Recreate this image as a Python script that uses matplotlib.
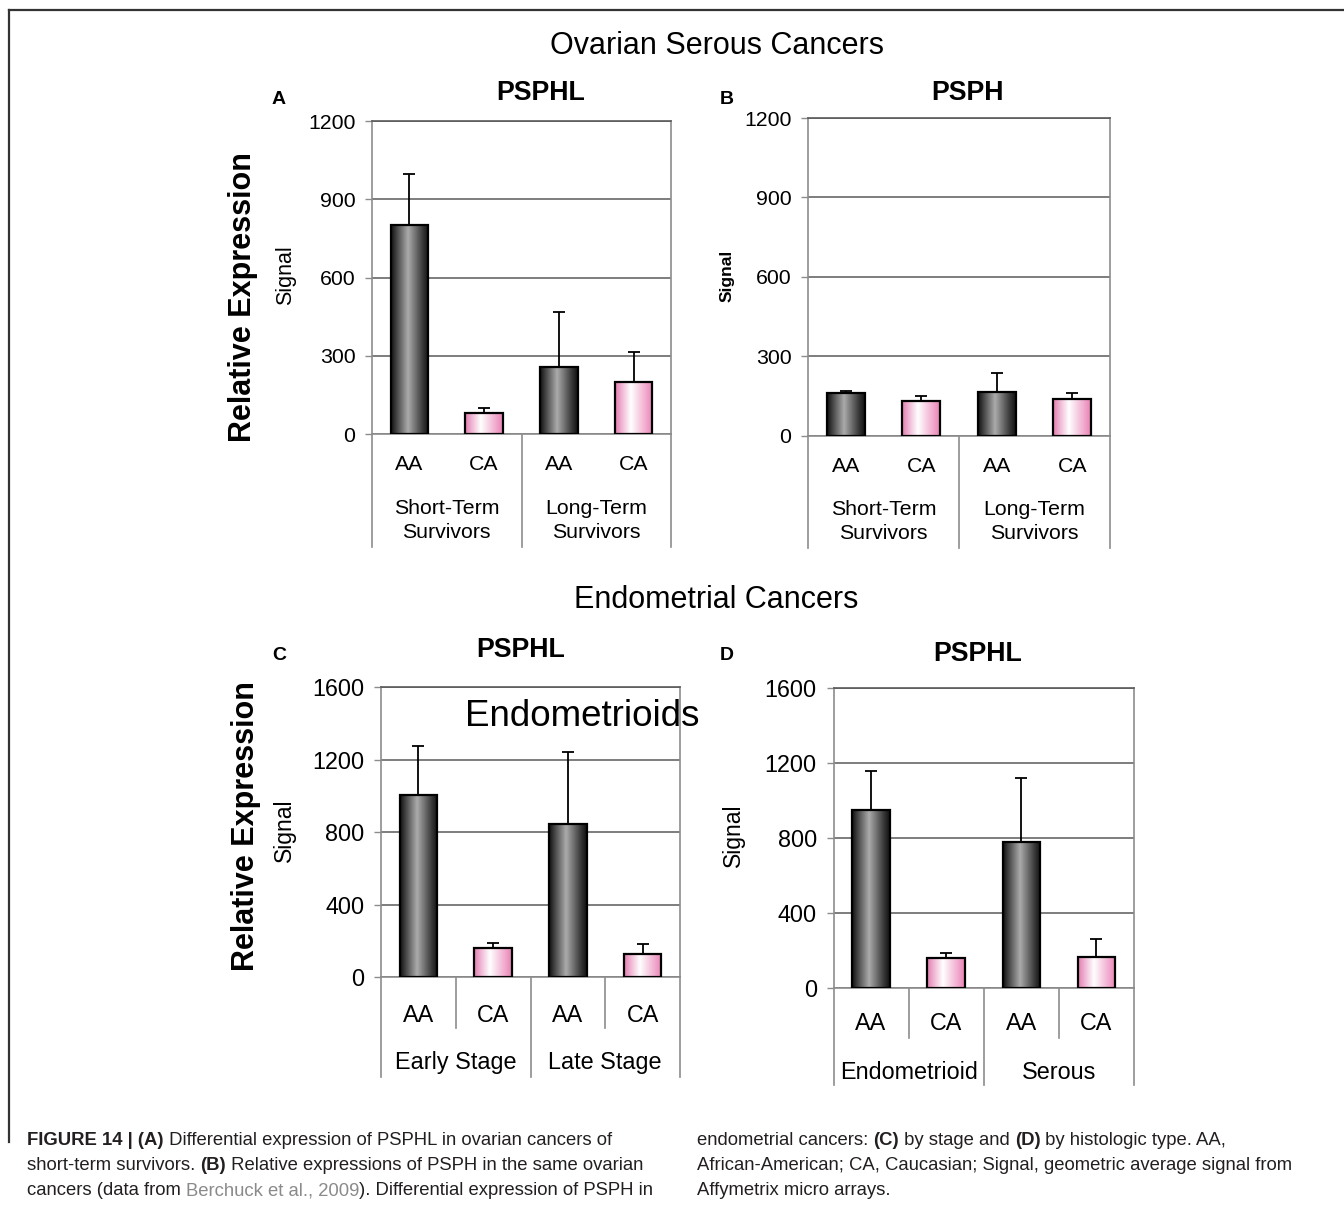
import numpy as np
import matplotlib
matplotlib.use('Agg')
import matplotlib.pyplot as plt
from matplotlib.colors import LinearSegmentedColormap
from matplotlib.lines import Line2D

plt.rcParams['font.family'] = ['Liberation Sans', 'DejaVu Sans']

W, H = 1344, 1209

races = ['AA', 'CA', 'AA', 'CA']

# A: PSPHL in ovarian serous cancers, by survival
a_groups = ['Short-Term\nSurvivors', 'Long-Term\nSurvivors']
a_mean = [802, 82, 257, 201]
a_err = [196, 17, 212, 115]

# B: PSPH in the same ovarian cancers
b_groups = ['Short-Term\nSurvivors', 'Long-Term\nSurvivors']
b_mean = [161, 132, 166, 137]
b_err = [9, 18, 72, 23]

# C: PSPHL in endometrial cancers, by stage
c_groups = ['Early Stage', 'Late Stage']
c_mean = [1003, 163, 845, 128]
c_err = [273, 26, 398, 57]

# D: PSPHL in endometrial cancers, by histologic type
d_groups = ['Endometrioid', 'Serous']
d_mean = [948, 158, 777, 165]
d_err = [208, 25, 343, 95]

ab_ticks = [0, 300, 600, 900, 1200]
cd_ticks = [0, 400, 800, 1200, 1600]

cap_font = ['Liberation Sans Narrow', 'Liberation Sans']
cap_left = [
    [('FIGURE 14 | (A)', 'b'), (' Differential expression of PSPHL in ovarian cancers of', 'n')],
    [('short-term survivors. ', 'n'), ('(B)', 'b'), (' Relative expressions of PSPH in the same ovarian', 'n')],
    [('cancers (data from ', 'n'), ('Berchuck et al., 2009', 'g'), ('). Differential expression of PSPH in', 'n')],
]
cap_right = [
    [('endometrial cancers: ', 'n'), ('(C)', 'b'), (' by stage and ', 'n'), ('(D)', 'b'), (' by histologic type. AA,', 'n')],
    [('African-American; CA, Caucasian; Signal, geometric average signal from', 'n')],
    [('Affymetrix micro arrays.', 'n')],
]


def fx(x):
    return x / W


def fy(y):
    return 1 - y / H


dark = LinearSegmentedColormap.from_list('dark', [(0, '#111111'), (0.12, '#3a3a3a'), (0.45, '#ababab'),
                                                  (0.85, '#353535'), (1, '#101010')])
pink = LinearSegmentedColormap.from_list('pinkbar', [(0, '#e47db1'), (0.42, '#ffffff'), (1, '#ea82b6')])
ramp = np.linspace(0, 1, 256)[None, :]

fig = plt.figure(figsize=(W / 100, H / 100), dpi=100)


def panel(left, top, right, bottom, mean, err, ticks, groups, fs, tick_off, group_off, depth, short_depth=None):
    ax = fig.add_axes([fx(left), fy(bottom), (right - left) / W, (bottom - top) / H])
    x = np.arange(len(mean))
    bars = ax.bar(x, mean, width=0.5, color='none', edgecolor='black', linewidth=1.6, zorder=4)
    for i, b in enumerate(bars):
        cm = dark if races[i] == 'AA' else pink
        ax.imshow(ramp, cmap=cm, aspect='auto', zorder=3, interpolation='bilinear',
                  extent=[b.get_x(), b.get_x() + b.get_width(), 0, b.get_height()])
    ax.errorbar(x, mean, yerr=[np.zeros(len(err)), err], fmt='none', ecolor='black',
                elinewidth=1.3, capsize=4, capthick=1.3, zorder=5)
    ax.set_xlim(-0.5, len(mean) - 0.5)
    ax.set_ylim(ticks[0], ticks[-1])
    ax.set_yticks(ticks)
    ax.set_xticks([])
    ax.tick_params(axis='y', direction='out', length=5, width=1, color='#8c8c8c', pad=7, labelsize=fs)
    ax.grid(axis='y', color='#5a5a5a', linewidth=1.1)
    ax.set_axisbelow(True)
    for s in ax.spines.values():
        s.set_color('#8c8c8c')
        s.set_linewidth(1.2)
    ax.spines['top'].set_color('#5a5a5a')

    # category axis below the plot
    tr = ax.get_xaxis_transform()
    for i in x:
        ax.text(i, -tick_off, races[i], transform=tr, ha='center', va='center', fontsize=fs)
    for g, label in enumerate(groups):
        ax.text(2 * g + 0.5, -group_off, label, transform=tr, ha='center', va='center',
                fontsize=fs, linespacing=1.35)
    for xv in (-0.5, 1.5, 3.5):
        ax.add_line(Line2D([xv, xv], [0, -depth], transform=tr, color='#8c8c8c', lw=1.2, clip_on=False))
    if short_depth:
        for xv in (0.5, 2.5):
            ax.add_line(Line2D([xv, xv], [0, -short_depth], transform=tr, color='#8c8c8c', lw=1.2,
                               clip_on=False))
    return ax


panel(372, 121.3, 671, 434, a_mean, a_err, ab_ticks, a_groups, 15.3, 0.099, 0.277, 0.361)
panel(808, 118, 1110, 435.7, b_mean, b_err, ab_ticks, b_groups, 15.3, 0.098, 0.271, 0.353)
panel(381, 687.1, 680, 977.3, c_mean, c_err, cd_ticks, c_groups, 16.8, 0.130, 0.295, 0.344, 0.175)
panel(833.5, 687.7, 1134, 987.7, d_mean, d_err, cd_ticks, d_groups, 16.8, 0.121, 0.284, 0.324, 0.168)

# section and panel titles
fig.text(fx(717), fy(46), 'Ovarian Serous Cancers', ha='center', va='center', fontsize=22)
fig.text(fx(716), fy(600), 'Endometrial Cancers', ha='center', va='center', fontsize=22)
for x, y, t in [(541, 93, 'PSPHL'), (967, 93, 'PSPH'), (521, 650, 'PSPHL'), (978, 654, 'PSPHL')]:
    fig.text(fx(x), fy(y), t, ha='center', va='center', fontsize=19.3, fontweight='bold')
for x, y, t in [(279, 100, 'A'), (727, 100, 'B'), (279, 655, 'C'), (727, 655, 'D')]:
    fig.text(fx(x), fy(y), t, ha='center', va='center', fontsize=14, fontweight='bold')

# y axis labels
fig.text(fx(243), fy(297), 'Relative Expression', rotation=90, ha='center', va='center',
         fontsize=22, fontweight='bold')
fig.text(fx(246), fy(826), 'Relative Expression', rotation=90, ha='center', va='center',
         fontsize=22, fontweight='bold')
fig.text(fx(286), fy(275), 'Signal', rotation=90, ha='center', va='center', fontsize=15.5)
fig.text(fx(727), fy(276), 'Signal', rotation=90, ha='center', va='center', fontsize=12.5,
         fontweight='bold')
fig.text(fx(284), fy(830), 'Signal', rotation=90, ha='center', va='center', fontsize=16.5)
fig.text(fx(733), fy(835), 'Signal', rotation=90, ha='center', va='center', fontsize=16.5)

fig.text(fx(465), fy(717), 'Endometrioids', ha='left', va='center', fontsize=26.5, zorder=10)

# outer frame
fig.add_artist(Line2D([fx(9), 1], [fy(10), fy(10)], color='#333333', lw=1.6))
fig.add_artist(Line2D([fx(9), fx(9)], [fy(10), fy(1142)], color='#333333', lw=1.6))

# caption, written run by run so bold and grey pieces sit inline
renderer = fig.canvas.get_renderer()


def caption_line(x, y, runs, fs=13.3):
    for txt, style in runs:
        t = fig.text(fx(x), fy(y), txt, fontsize=fs, family=cap_font, va='baseline', ha='left',
                     fontweight='bold' if style == 'b' else 'normal',
                     color='#8a8a8a' if style == 'g' else '#231f20')
        x += t.get_window_extent(renderer).width


for k, runs in enumerate(cap_left):
    caption_line(27, 1145 + 25 * k, runs)
for k, runs in enumerate(cap_right):
    caption_line(697, 1145 + 25 * k, runs)

fig.savefig('out.png', dpi=100)
